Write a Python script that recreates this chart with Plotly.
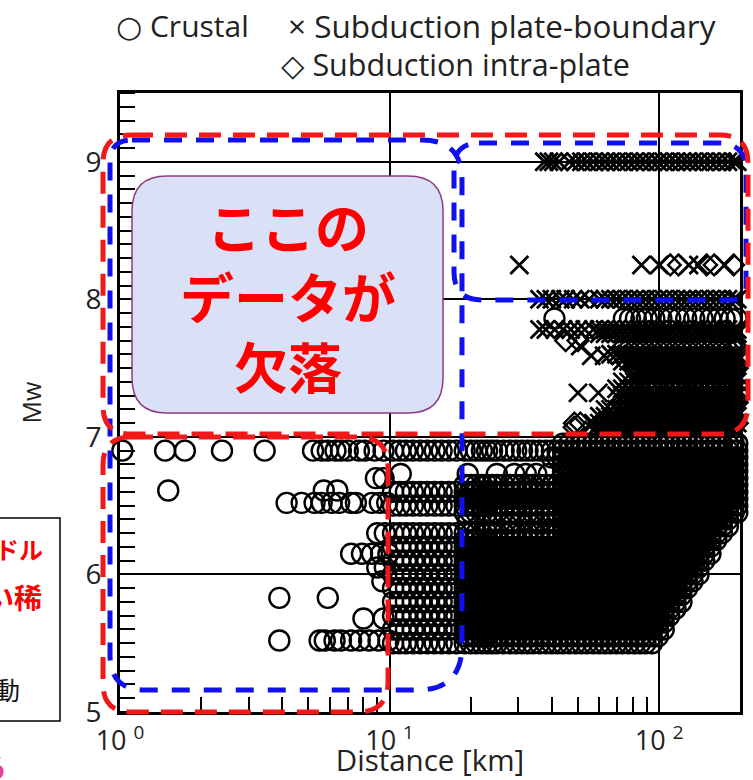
import plotly.graph_objects as go

# ---------------- data ----------------
# distance grid (km) used for the densely filled rows
DIST_GRID = [19, 20, 21, 22, 23, 24, 25, 26.5, 28, 29.5, 31, 32.5, 34, 36, 38, 40,
             42, 44, 46.5, 49, 51.5, 54, 57, 60, 63, 66, 69.5, 73, 77, 81, 85, 89,
             94, 99, 104, 109, 115, 121, 127, 133, 140, 147, 155, 163, 171, 180, 189, 195]

# Crustal: dense rows (Mw, min distance, max distance)
CR_DENSE_MW = [5.5, 5.55, 5.6, 5.65, 5.7, 5.75, 5.8, 5.85, 5.9, 5.95, 6.0, 6.05, 6.1,
               6.15, 6.2, 6.25, 6.3, 6.35, 6.4, 6.45, 6.5, 6.55, 6.6, 6.65, 6.7, 6.75,
               6.8, 6.85, 6.9, 6.95]
CR_DENSE_DMIN = [19, 19, 19, 19, 19, 19, 19, 19, 19, 19, 19, 19, 19,
                 19, 19, 19, 19, 44, 44, 19, 19, 19, 19, 19, 44, 44,
                 44, 40, 19, 44]
CR_DENSE_DMAX = [97, 100, 104, 108, 112, 116, 121, 125, 130, 135, 140, 145, 151,
                 156, 162, 168, 175, 181, 188, 195, 200, 200, 200, 200, 200, 200,
                 200, 200, 200, 200]

# Crustal: clusters between 10 and 18 km
CR_NEAR_D = [10.3, 10.9, 11.5, 12.2, 13.0, 13.8, 14.7, 15.6, 16.6, 17.7]
CR_NEAR_MW = [5.5, 5.6, 5.7, 5.8, 5.9, 6.0, 6.1, 6.2, 6.3, 6.5, 6.6, 6.9]

# Crustal: individually visible events (rows of Mw with their distances)
CR_SPARSE_MW = [6.9, 6.61, 6.52, 6.7, 6.3, 6.15, 6.05, 5.95, 5.83, 5.68, 5.52,
                7.86, 6.38, 6.73]
CR_SPARSE_D = [
    [1.02, 1.47, 1.74, 2.39, 3.44, 5.2, 5.6, 5.9, 6.3, 6.6, 7.0, 7.7, 8.1, 8.8, 9.5],
    [1.51, 5.7, 6.4],
    [4.15, 4.72, 5.27, 5.6, 6.1, 6.5, 7.2, 7.5, 8.6, 9.2, 9.8],
    [8.9, 9.5],
    [9.0, 9.6],
    [7.2, 7.9, 8.6, 9.3, 9.9],
    [9.0, 9.6],
    [9.4],
    [3.9, 5.9],
    [8.0, 9.5],
    [3.9, 5.5, 5.75, 6.25, 6.6, 7.2, 7.75, 8.4, 9.1, 9.9],
    [40.9, 74, 78, 82, 86, 90, 96, 102, 110, 118, 126, 135, 145, 155, 165, 175, 185, 194],
    [19.5, 24, 28, 30.5, 33, 36, 40],
    [11, 19.5, 25, 29, 32, 35, 39],
]

# Subduction plate-boundary: dense rows (Mw, min distance)
SPB_DENSE_MW = [9.0, 8.0, 7.78, 7.75, 7.6, 7.55, 7.45, 7.4, 7.35, 7.3, 7.2, 7.15, 7.1, 7.05]
SPB_DENSE_DMIN = [45, 60, 56, 58, 66, 70, 78, 70, 68, 68, 62, 58, 55, 55]
# Subduction plate-boundary: individually visible events
SPB_SPARSE_MW = [9.0, 8.25, 8.0, 7.78, 7.66, 7.59, 7.32]
SPB_SPARSE_D = [
    [37.5, 39, 40.5, 42.5],
    [30.3, 86, 100, 129, 140, 175],
    [36, 38, 40, 43, 45, 48, 51, 55],
    [36, 38, 41, 44, 47, 50, 53],
    [51],
    [56, 62.5, 72],
    [50, 59.5],
]

# Subduction intra-plate: dense rows (Mw, min distance)
SIP_DENSE_MW = [7.65, 7.5, 7.25, 7.1]
SIP_DENSE_DMIN = [70, 80, 70, 60]
# Subduction intra-plate: individually visible events
SIP_SPARSE_MW = [8.25, 7.7, 7.55, 7.19, 7.1, 7.07]
SIP_SPARSE_D = [
    [110, 118, 150, 160, 189],
    [45, 50],
    [75, 90, 120, 150, 180],
    [91],
    [48.5, 51],
    [48.4],
]

X_TICKS = [1, 10, 100]
X_TICKTEXT = ["10 <sup>0</sup>", "10 <sup>1</sup>", "10 <sup>2</sup>"]
X_MINOR = [2, 3, 4, 5, 6, 7, 8, 9, 20, 30, 40, 50, 60, 70, 80, 90, 200]
Y_TICKS = [5, 6, 7, 8, 9]

# ---------------- build point tables ----------------
def dense(mws, dmins, dmaxs=None):
    xs, ys = [], []
    for i, m in enumerate(mws):
        hi = dmaxs[i] if dmaxs else 200
        for d in DIST_GRID:
            if dmins[i] <= d <= hi:
                xs.append(d); ys.append(m)
    return xs, ys

def rows(mws, dists):
    xs, ys = [], []
    for m, ds in zip(mws, dists):
        for d in ds:
            xs.append(d); ys.append(m)
    return xs, ys

cx1, cy1 = dense(CR_DENSE_MW, CR_DENSE_DMIN, CR_DENSE_DMAX)
cx2, cy2 = rows(CR_NEAR_MW, [CR_NEAR_D] * len(CR_NEAR_MW))
cx3, cy3 = rows(CR_SPARSE_MW, CR_SPARSE_D)
cr_x, cr_y = cx1 + cx2 + cx3, cy1 + cy2 + cy3

px1, py1 = dense(SPB_DENSE_MW, SPB_DENSE_DMIN)
px2, py2 = rows(SPB_SPARSE_MW, SPB_SPARSE_D)
spb_x, spb_y = px1 + px2, py1 + py2

ix1, iy1 = dense(SIP_DENSE_MW, SIP_DENSE_DMIN)
ix2, iy2 = rows(SIP_SPARSE_MW, SIP_SPARSE_D)
sip_x, sip_y = ix1 + ix2, iy1 + iy2

FONT = "Open Sans, DejaVu Sans, sans-serif"
JP = "Noto Sans CJK JP, sans-serif"

fig = go.Figure()
fig.add_trace(go.Scatter(x=cr_x, y=cr_y, mode="markers", name="Crustal", cliponaxis=False,
                         marker=dict(symbol="circle-open", size=20, color="black",
                                     line=dict(width=2.4))))
fig.add_trace(go.Scatter(x=spb_x, y=spb_y, mode="markers", name="Subduction plate-boundary",
                         cliponaxis=False,
                         marker=dict(symbol="x-thin-open", size=18, color="black",
                                     line=dict(width=2.8))))
fig.add_trace(go.Scatter(x=sip_x, y=sip_y, mode="markers", name="Subduction intra-plate",
                         cliponaxis=False,
                         marker=dict(symbol="diamond-open", size=16, color="black",
                                     line=dict(width=2.4))))

# ---------------- layout ----------------
W, H = 753, 780
L, R, T, B = 120, 13, 93, 68
PW, PH = W - L - R, H - T - B


def fx(x):
    return (x - L) / PW


def fy(y):
    return (H - B - y) / PH


def rrect(x0, y0, x1, y1, r):
    tl, tr, br, bl = r
    pts = []
    pts.append(f"M {fx(x0 + tl):.4f},{fy(y0):.4f}")
    pts.append(f"L {fx(x1 - tr):.4f},{fy(y0):.4f}")
    pts.append(f"Q {fx(x1):.4f},{fy(y0):.4f} {fx(x1):.4f},{fy(y0 + tr):.4f}")
    pts.append(f"L {fx(x1):.4f},{fy(y1 - br):.4f}")
    pts.append(f"Q {fx(x1):.4f},{fy(y1):.4f} {fx(x1 - br):.4f},{fy(y1):.4f}")
    pts.append(f"L {fx(x0 + bl):.4f},{fy(y1):.4f}")
    pts.append(f"Q {fx(x0):.4f},{fy(y1):.4f} {fx(x0):.4f},{fy(y1 - bl):.4f}")
    pts.append(f"L {fx(x0):.4f},{fy(y0 + tl):.4f}")
    pts.append(f"Q {fx(x0):.4f},{fy(y0):.4f} {fx(x0 + tl):.4f},{fy(y0):.4f} Z")
    return " ".join(pts)


BLUE = dict(color="#1010ee", width=5, dash="18px,14px")
RED = dict(color="#f01818", width=5, dash="22px,12px")

shapes = [
    dict(type="path", xref="paper", yref="paper", path=rrect(110, 140, 462, 690, (22, 40, 45, 35)), line=BLUE),
    dict(type="path", xref="paper", yref="paper", path=rrect(454, 143, 746, 300, (25, 28, 15, 28)), line=BLUE),
    dict(type="path", xref="paper", yref="paper", path=rrect(103, 135, 748, 434, (28, 28, 30, 28)), line=RED),
    dict(type="path", xref="paper", yref="paper", path=rrect(103, 437, 388, 712, (28, 30, 30, 28)), line=RED),
    dict(type="path", xref="paper", yref="paper", path=rrect(132, 176, 443, 413, (35, 35, 35, 35)),
         line=dict(color="#8e3b82", width=1.5), fillcolor="#dae0f5"),
    dict(type="rect", xref="paper", yref="paper", x0=fx(-10), x1=fx(60), y0=fy(518), y1=fy(721),
         line=dict(color="black", width=1.5)),
]

ann = []
def text(t, x, y, size, color="#222", xanchor="left", family=FONT):
    ann.append(dict(text=t, x=fx(x), y=fy(y), xref="paper", yref="paper", showarrow=False,
                    xanchor=xanchor, yanchor="middle", font=dict(size=size, color=color, family=family)))

# legend (as text)
text("○ Crustal", 114, 26, 30)
text("× Subduction plate-boundary", 286, 26, 31.5)
text("◇ Subduction intra-plate", 279, 64, 30.5)

# callout
text("<b>ここの<br>データが<br>欠落</b>", 288, 295, 54, "#ff0000", "center", JP)

# cut-off side note
text("<b>ハードル</b>", 45, 548, 24, "#ff0000", "right", JP)
text("<b>ない稀</b>", 44, 597, 28, "#ff0000", "right", JP)
text("地震動", 22, 689, 25, "#111", "right", JP)
text("<b>る</b>", 9, 766, 28, "#e83e9b", "right", JP)

fig.update_layout(
    width=W, height=H, margin=dict(l=L, r=R, t=T, b=B, autoexpand=False),
    paper_bgcolor="white", plot_bgcolor="white", showlegend=False,
    font=dict(family=FONT, color="#222"),
    shapes=shapes, annotations=ann,
)
fig.update_xaxes(
    type="log", range=[0, 2.3], tickmode="array", tickvals=X_TICKS, ticktext=X_TICKTEXT,
    ticks="", showgrid=True, gridcolor="black", gridwidth=2,
    showline=True, linecolor="black", linewidth=3, mirror=True, zeroline=False,
    minor=dict(tickmode="array", tickvals=X_MINOR, ticks="inside", ticklen=15,
               tickcolor="black", tickwidth=2, showgrid=False),
    tickfont=dict(size=27), ticklabelstandoff=3,
    title=dict(text="Distance [km]", font=dict(size=29.5), standoff=0),
)
fig.update_yaxes(
    range=[5, 9.5], tickmode="array", tickvals=Y_TICKS, ticks="",
    showgrid=True, gridcolor="black", gridwidth=2,
    showline=True, linecolor="black", linewidth=3, mirror=True, zeroline=False,
    minor=dict(tick0=5, dtick=0.1, ticks="inside", ticklen=15,
               tickcolor="black", tickwidth=2, showgrid=False),
    tickfont=dict(size=28), ticklabelstandoff=10,
    title=dict(text="Mw", font=dict(size=25), standoff=37),
)

fig.write_html("out.html", config={"displayModeBar": False},
               post_script="document.body.style.margin='0px';")
